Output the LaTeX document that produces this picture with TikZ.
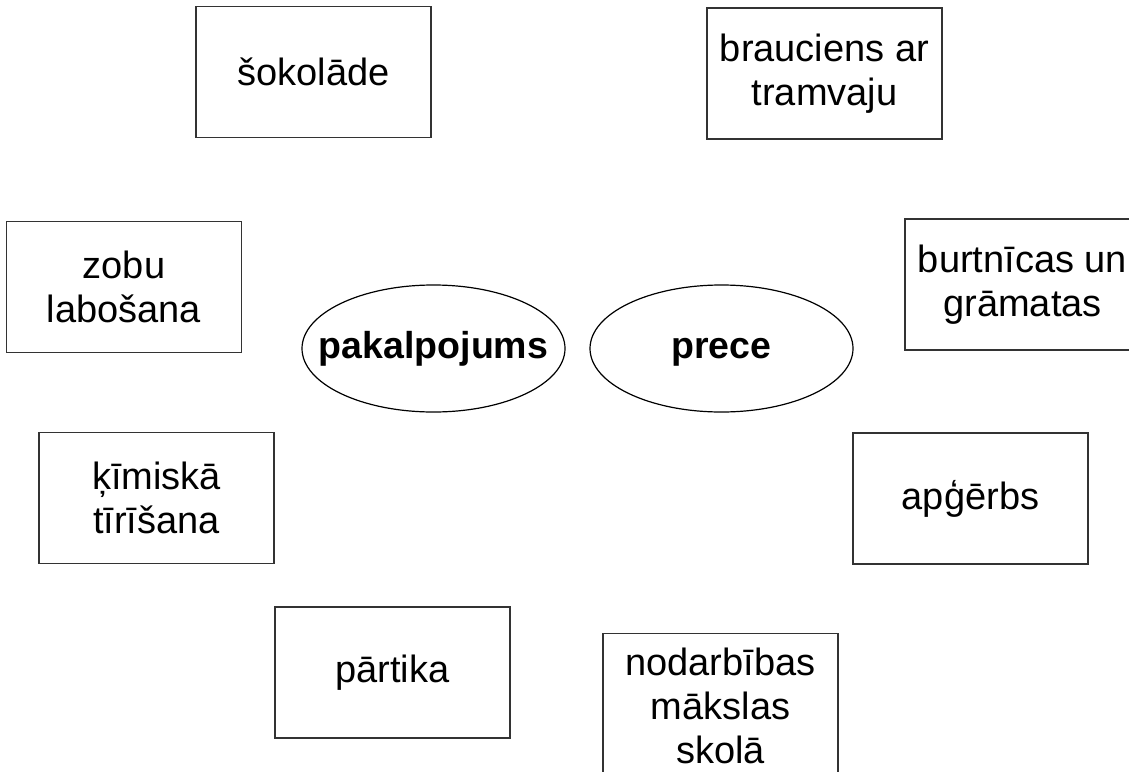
\documentclass[tikz,border=0pt]{standalone}
\usepackage{fontspec}
\setmainfont{Liberation Sans}
\usetikzlibrary{shapes.geometric}
\tikzset{
  item/.style    = {shape=rectangle, draw=black!80, line width=1.2pt,
                    align=center, minimum width=235pt, minimum height=131pt,
                    inner sep=0pt, font=\fontsize{38}{44}\selectfont},
  category/.style = {shape=ellipse, draw, line width=1.2pt,
                    inner xsep=-40pt, inner ysep=0pt,
                    text height=28pt, text depth=8pt,
                    minimum width=263pt, minimum height=127pt,
                    font=\fontsize{37.5}{44}\selectfont\bfseries}
}

\begin{document}
\begin{tikzpicture}
  [
    x = 1pt,
    y = -1pt
  ]
  \useasboundingbox (0,0) rectangle (1129,771);
  % the two groups
  \node [category] (pakalpojums) at (433.5,348.5) {pakalpojums};
  \node [category] (prece)       at (721.5,348.5) {prece};
  % things to sort
  \node [item] (sokolade)  at (313.5,72)    {šokolāde};
  \node [item] (tramvajs)  at (824.5,73.5)  {brauciens ar\\tramvaju};
  \node [item] (zobi)      at (124,287)     {zobu\\labošana};
  \node [item] (gramatas)  at (1022.5,284.5) {burtnīcas un\\grāmatas};
  \node [item] (tirisana)  at (156.5,498)   {ķīmiskā\\tīrīšana};
  \node [item] (apgerbs)   at (970.5,498.5) {apģērbs};
  \node [item] (partika)   at (392.5,672.5) {pārtika};
  \node [item, minimum height=144pt, anchor=north]
               (nodarbibas) at (720.5,633)  {nodarbības\\mākslas\\skolā};
\end{tikzpicture}
\end{document}
